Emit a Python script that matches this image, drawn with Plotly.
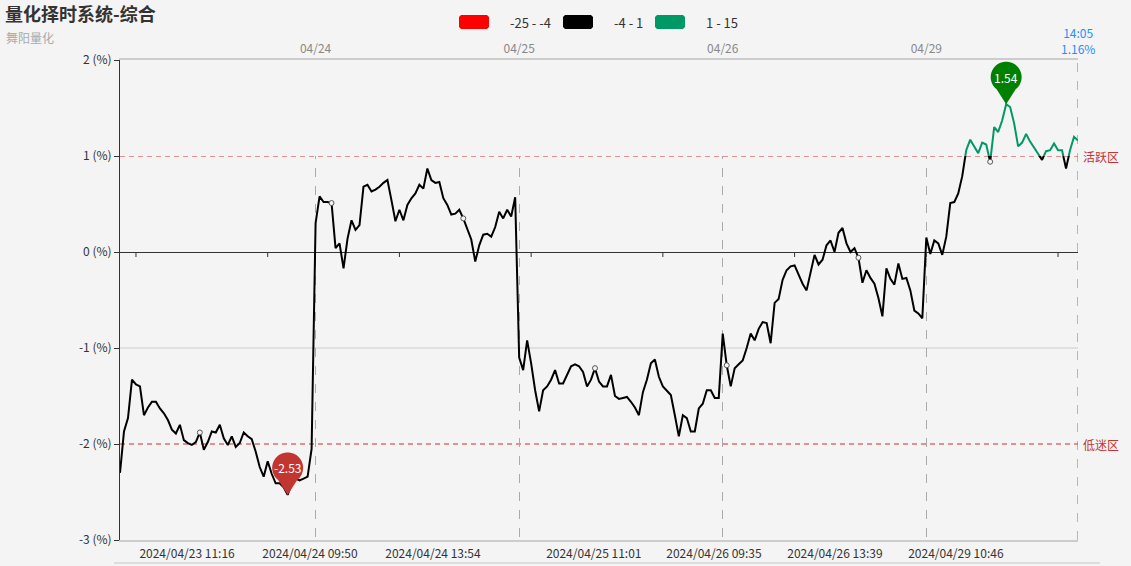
import math

import plotly.graph_objects as go

# intraday % readings, one sample every few minutes, per trading day
day_0423 = [-2.30, -1.87, -1.73, -1.33, -1.38, -1.40, -1.70, -1.62, -1.56, -1.56,
            -1.63, -1.68, -1.75, -1.85, -1.89, -1.80, -1.96, -1.99, -2.01, -1.98,
            -1.88, -2.06, -1.98, -1.87, -1.88, -1.80, -1.94, -2.01, -1.92, -2.03,
            -1.99, -1.88, -1.92, -1.95, -2.08, -2.24, -2.34, -2.18, -2.31, -2.41,
            -2.41, -2.45, -2.53, -2.41, -2.36, -2.38, -2.36, -2.34, -2.05]
day_0424 = [0.30, 0.58, 0.52, 0.52, 0.51, 0.04, 0.09, -0.17, 0.14, 0.33,
            0.23, 0.28, 0.68, 0.70, 0.63, 0.65, 0.68, 0.72, 0.75, 0.54,
            0.32, 0.44, 0.33, 0.49, 0.56, 0.61, 0.70, 0.66, 0.87, 0.75,
            0.72, 0.73, 0.56, 0.49, 0.39, 0.40, 0.44, 0.35, 0.23, 0.13,
            -0.10, 0.07, 0.18, 0.19, 0.16, 0.26, 0.42, 0.35, 0.44, 0.37, 0.57]
day_0425 = [-1.10, -1.23, -0.92, -1.16, -1.44, -1.66, -1.44, -1.40, -1.33, -1.23,
            -1.37, -1.37, -1.28, -1.19, -1.17, -1.19, -1.25, -1.40, -1.33, -1.21,
            -1.35, -1.40, -1.40, -1.28, -1.50, -1.53, -1.52, -1.51, -1.56, -1.62,
            -1.70, -1.46, -1.33, -1.16, -1.12, -1.30, -1.40, -1.44, -1.49, -1.70,
            -1.92, -1.70, -1.73, -1.87, -1.87, -1.63, -1.58, -1.44, -1.44, -1.52, -1.52]
day_0426 = [-0.85, -1.18, -1.40, -1.21, -1.17, -1.13, -1.00, -0.85, -0.92, -0.80,
            -0.73, -0.74, -0.95, -0.53, -0.49, -0.29, -0.19, -0.15, -0.14, -0.23,
            -0.33, -0.40, -0.23, -0.03, -0.13, -0.08, 0.07, 0.12, 0.00, 0.20,
            0.25, 0.09, 0.00, 0.04, -0.06, -0.32, -0.19, -0.27, -0.33, -0.48,
            -0.67, -0.17, -0.28, -0.34, -0.12, -0.28, -0.27, -0.40, -0.61, -0.64, -0.69]
day_0429 = [0.15, -0.02, 0.12, 0.09, -0.03, 0.16, 0.51, 0.52, 0.61, 0.79,
            1.06, 1.17, 1.10, 1.03, 1.14, 1.12, 0.94, 1.30, 1.25, 1.37,
            1.54, 1.51, 1.34, 1.10, 1.14, 1.23, 1.15, 1.09, 1.03, 0.96,
            1.05, 1.06, 1.13, 1.06, 1.06, 0.87, 1.06, 1.20, 1.16]

days = [day_0423, day_0424, day_0425, day_0426, day_0429]
day_labels = ["04/24", "04/25", "04/26", "04/29"]
last_time = "14:05"

time_labels = ["2024/04/23 11:16", "2024/04/24 09:50", "2024/04/24 13:54",
               "2024/04/25 11:01", "2024/04/26 09:35", "2024/04/26 13:39",
               "2024/04/29 10:46"]
time_label_pos = [16.8, 47.6, 78.4, 118.7, 148.8, 179.1, 209.4]

y_ticks = [-3, -2, -1, 0, 1, 2]
zone_bands = [("-25 - -4", "#ff0000"), ("-4 - 1", "#000000"), ("1 - 15", "#009966")]
active_level, weak_level = 1, -2

pct = [v for d in days for v in d]
x = list(range(len(pct)))
day_start = []
n = 0
for d in days[:-1]:
    n += len(d)
    day_start.append(n)

SYMBOL_STEP = 33
symbol_pos = list(range(20, len(pct), SYMBOL_STEP))
tick_pos = list(range(4, len(pct), SYMBOL_STEP))

FONT = "Microsoft YaHei, Noto Sans CJK SC, sans-serif"
BG = "#f4f4f4"
RED = "#c23531"
BLUE = "#1e90ff"
GREEN = "#009966"

L, R, T, B, W, H = 120, 53, 60, 26, 1131, 566
PW = W - L - R


def px(v):
    return (v - L) / PW


def py(v):
    return (H - B - v) / (H - T - B)


# balloon outline (pixels, relative to the tip)
_pts = [(0, 0)]
for k in range(30):
    a = math.radians(-52 + k * 284 / 29)
    _pts.append((15.5 * math.cos(a), 27 + 15.5 * math.sin(a)))
PIN_PATH = "M " + " L ".join(f"{a:.2f},{b:.2f}" for a, b in _pts) + " Z"
# small rounded swatch, 30x14 px, centred on its anchor
SWATCH_PATH = ("M -13,-7 L 13,-7 L 15,-5 L 15,5 L 13,7 L -13,7 L -15,5 "
               "L -15,-5 Z")

fig = go.Figure()
fig.add_trace(go.Scatter(x=x, y=pct, mode="lines", line=dict(color="#000", width=2),
                         hoverinfo="skip", showlegend=False))
# green piece: same series drawn on an axis whose domain only covers the > 1 band
fig.add_trace(go.Scatter(x=x, y=pct, mode="lines", line=dict(color=GREEN, width=2),
                         yaxis="y2", hoverinfo="skip", showlegend=False))
fig.add_trace(go.Scatter(x=symbol_pos, y=[pct[i] for i in symbol_pos], mode="markers",
                         marker=dict(size=5, color=BG, line=dict(color="#555", width=1)),
                         hoverinfo="skip", showlegend=False))
# keeps the top date axis alive
fig.add_trace(go.Scatter(x=[0, x[-1]], y=[None, None], xaxis="x2", showlegend=False,
                         hoverinfo="skip"))

shapes = []
for lvl in y_ticks[1:-1]:
    if lvl not in (active_level, weak_level, 0):
        shapes.append(dict(type="line", xref="paper", yref="y", x0=0, x1=1, y0=lvl, y1=lvl,
                           line=dict(color="#ccc", width=1), layer="below"))
for lvl in (active_level, weak_level):
    shapes.append(dict(type="line", xref="paper", yref="y", x0=0, x1=1, y0=lvl, y1=lvl,
                       line=dict(color="#d6736f", width=1.5, dash="5px,4px"),
                       layer="below"))
shapes.append(dict(type="line", xref="x", yref="paper", x0=x[-1], x1=x[-1], y0=0, y1=1,
                   line=dict(color=BLUE, width=1, dash="dash")))
for t in tick_pos:
    shapes.append(dict(type="line", xref="x", yref="y", xsizemode="pixel", ysizemode="pixel",
                       xanchor=t, yanchor=0, x0=0, x1=0, y0=0, y1=-5,
                       line=dict(color="#333", width=1)))
shapes.append(dict(type="line", xref="paper", yref="paper", x0=px(114), x1=px(1100),
                   y0=py(563), y1=py(563), line=dict(color="#ddd", width=2)))

annotations = []
i_max = max(x, key=lambda i: pct[i])
i_min = min(x, key=lambda i: pct[i])
for i, col in ((i_max, "#008000"), (i_min, RED)):
    shapes.append(dict(type="path", xref="x", yref="y", xsizemode="pixel", ysizemode="pixel",
                       xanchor=i, yanchor=pct[i], path=PIN_PATH,
                       fillcolor=col, line=dict(width=0)))
    annotations.append(dict(x=i, y=pct[i], text=f"{pct[i]:.2f}", showarrow=False, yshift=27,
                            yanchor="middle",
                            font=dict(color="white", size=12, family=FONT)))

annotations += [
    dict(xref="paper", yref="y", x=1, y=active_level, xanchor="left", text="活跃区",
         showarrow=False, xshift=3, font=dict(color=RED, size=12, family=FONT)),
    dict(xref="paper", yref="y", x=1, y=weak_level, xanchor="left", text="低迷区",
         showarrow=False, xshift=3, font=dict(color=RED, size=12, family=FONT)),
    dict(xref="x", yref="paper", x=x[-1], y=1, text=f"{last_time}<br>{pct[-1]:.2f}%",
         showarrow=False, yanchor="bottom", yshift=1,
         font=dict(color=BLUE, size=12, family=FONT)),
    dict(xref="paper", yref="paper", x=px(4), y=py(38), xanchor="left", yanchor="middle",
         text="舞阳量化", showarrow=False, font=dict(color="#aaa", size=12, family=FONT)),
]

# piecewise legend
sw_left = [459, 563, 655]
for (label, col), left in zip(zone_bands, sw_left):
    shapes.append(dict(type="path", xref="paper", yref="paper", xsizemode="pixel",
                       ysizemode="pixel", xanchor=px(left + 15), yanchor=py(22),
                       path=SWATCH_PATH, fillcolor=col, line=dict(width=0)))
    annotations.append(dict(xref="paper", yref="paper", x=px(left + 49), y=py(22),
                            xanchor="left", yanchor="middle", text=label, showarrow=False,
                            font=dict(color="#333", size=13, family=FONT)))

fig.update_layout(
    width=W, height=H,
    margin=dict(l=L, r=R, t=T, b=B),
    paper_bgcolor=BG, plot_bgcolor=BG,
    font=dict(family=FONT, size=12, color="#333"),
    title=dict(text="<b>量化择时系统-综合</b>", xref="container", yref="container",
               x=5 / W, xanchor="left", y=1 - 15 / H, yanchor="middle",
               font=dict(size=18, color="#333", family=FONT)),
    xaxis=dict(range=[0, x[-1]], tickvals=time_label_pos, ticktext=time_labels,
               showgrid=False, zeroline=False, showline=True, linecolor="#ccc", linewidth=2,
               ticks="", ticklabelstandoff=2, automargin=False,
               tickfont=dict(color="#333", size=12)),
    xaxis2=dict(range=[0, x[-1]], overlaying="x", side="top", tickvals=day_start,
                ticktext=day_labels, showgrid=True, griddash="dash", gridcolor="#aaa",
                gridwidth=1, zeroline=False, showline=True, linecolor="#ccc", linewidth=2,
                ticks="inside", ticklen=5, tickcolor="#999", automargin=False,
                tickfont=dict(color="#888", size=12)),
    yaxis=dict(range=[y_ticks[0], y_ticks[-1]], tickvals=y_ticks,
               ticktext=[f"{v} (%)" for v in y_ticks],
               showgrid=False, zeroline=True, zerolinecolor="#333",
               zerolinewidth=1, showline=True, linecolor="#333", linewidth=1,
               ticks="outside", ticklen=5, tickcolor="#333", automargin=False),
    yaxis2=dict(domain=[0.8, 1], range=[1, 2], anchor="x", visible=False),
    shapes=shapes,
    annotations=annotations,
    hovermode=False,
)

fig.write_html("out.html", config={"displayModeBar": False},
               post_script="document.body.style.margin = '0';")
